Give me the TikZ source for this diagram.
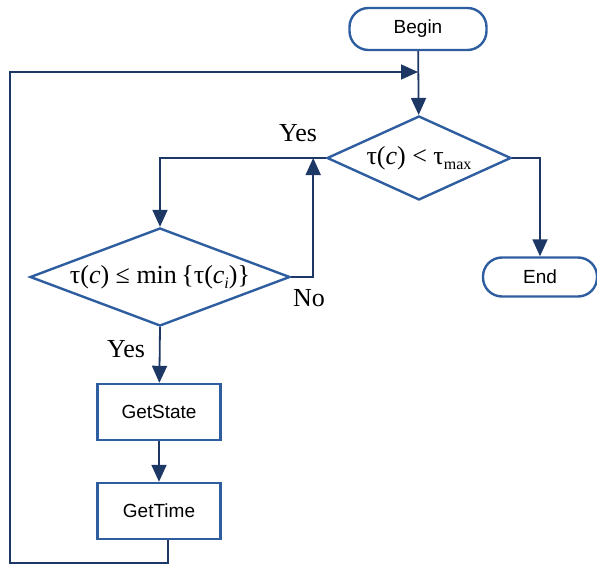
\documentclass[tikz,border=0pt]{standalone}
\usepackage{fontspec}
\setmainfont{Liberation Serif}
\newfontfamily\arial{Liberation Sans}
\usetikzlibrary{shapes.geometric,arrows.meta}
\definecolor{boxblue}{RGB}{46,93,160}
\definecolor{linenavy}{RGB}{30,56,102}
\tikzset{
  term/.style={draw=boxblue,line width=2.4pt,rounded corners=19pt,font=\arial\fontsize{19}{21}\selectfont,inner sep=0pt},
  proc/.style={draw=boxblue,line width=2.4pt,minimum width=123pt,minimum height=56pt,font=\arial\fontsize{19}{21}\selectfont,inner sep=0pt},
  dec/.style={diamond,draw=boxblue,line width=2.4pt,inner sep=0pt,font=\fontsize{26}{28}\selectfont},
  conn/.style={draw=linenavy,line width=1.8pt,-{Triangle[length=17pt,width=15pt]}},
  lbl/.style={font=\fontsize{26}{28}\selectfont}
}
\newcommand{\sub}[1]{\raisebox{-0.45ex}{\fontsize{16}{16}\selectfont #1}}
\begin{document}
\begin{tikzpicture}[x=1pt,y=-1pt]
\useasboundingbox (0,0) rectangle (597,567);
% shapes
\node[term,minimum width=137pt,minimum height=42pt] (begin) at (418,29) {Begin};
\node[dec,minimum width=184pt,minimum height=84pt,shape aspect=2.2] (test) at (419,158) {τ(\textit{c}) < τ\sub{max}};
\node[term,minimum width=114pt,minimum height=39pt] (end) at (540,277) {End};
\node[dec,minimum width=260pt,minimum height=98pt,shape aspect=2.6] (cmp) at (160,277) {τ(\textit{c}) ≤ min\,\{τ(\textit{c}\sub{\textit{i}})\}};
\node[proc] (state) at (159,412) {GetState};
\node[proc] (time) at (159,511) {GetTime};
% labels
\node[lbl] (yes1) at (298,133) {Yes};
\node[lbl] (no) at (309,298) {No};
\node[lbl] (yes2) at (126,349) {Yes};
% connectors
\coordinate (join) at (418,72);
\coordinate (out) at ([xshift=9pt]time.south);
\draw[conn] (begin) -- (test);
\draw[conn] (out) -- ++(0,23) -| (10,72) -- (join);
\draw[conn] (test.east) -| (end.north);
\draw[conn] (test.west) -| (cmp.north);
\draw[conn] (cmp.east) -- ++(22,0) coordinate (nobend) -- (nobend |- test.west);
\draw[conn] (cmp.south) -- (state);
\draw[conn] (state) -- (time);
\end{tikzpicture}
\end{document}
